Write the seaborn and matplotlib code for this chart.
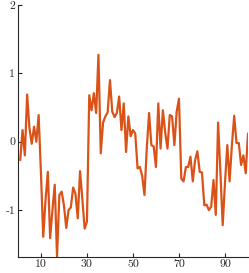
import numpy as np
import pandas as pd
import matplotlib
matplotlib.use("Agg")
import matplotlib.pyplot as plt
import seaborn as sns

# values, one per step (x = 1..100)
steps = list(range(1, 101))
values = [
    -0.27, 0.17, -0.20, 0.69, 0.20, -0.03, 0.22, 0.00, 0.39, -0.45,
    -1.39, -0.85, -0.44, -1.41, -1.00, -0.63, -1.68, -0.78, -0.73, -0.93,
    -1.26, -1.00, -0.96, -0.67, -0.76, -1.12, -0.43, -0.84, -1.27, -1.17,
    0.68, 0.46, 0.71, 0.42, 1.27, -0.17, 0.28, 0.37, 0.43, 0.90,
    0.44, 0.36, 0.42, 0.66, 0.17, 0.56, -0.15, 0.37, 0.08, 0.17,
    0.12, -0.39, -0.37, -0.50, -0.78, -0.10, 0.42, -0.05, -0.07, -0.37,
    0.56, -0.10, 0.46, 0.14, -0.10, 0.39, 0.37, -0.05, 0.44, 0.63,
    -0.54, -0.58, -0.37, -0.37, -0.22, -0.58, -0.27, -0.14, -0.44, -0.45,
    -0.93, -0.92, -1.00, -0.95, -0.56, -1.07, 0.28, -0.44, -1.22, -0.60,
    -0.05, -0.58, -0.05, 0.38, -0.02, -0.02, -0.34, -0.20, -0.46, 0.12,
]
xticks = [10, 30, 50, 70, 90]
yticks = [-1, 0, 1, 2]

df = pd.DataFrame({"step": steps, "value": values})

sns.set_style("ticks")
plt.rcParams["font.family"] = "serif"
plt.rcParams["font.serif"] = ["cmr10", "DejaVu Serif"]
plt.rcParams["axes.unicode_minus"] = False
plt.rcParams["mathtext.fontset"] = "cm"

fig = plt.figure(figsize=(2.49, 2.73), dpi=100)
ax = fig.add_axes([0.072, 0.06, 0.924, 0.922])

sns.lineplot(data=df, x="step", y="value", color="#D95319", linewidth=1.6, ax=ax)

ax.set_xlim(0, 100)
ax.set_ylim(-1.68, 2)
ax.set_xticks(xticks)
ax.set_yticks(yticks)
ax.set_xlabel("")
ax.set_ylabel("")
ax.tick_params(direction="in", length=3, width=0.8, colors="#262626", labelsize=8.5, pad=2)
for side in ["left", "bottom"]:
    ax.spines[side].set_color("#262626")
    ax.spines[side].set_linewidth(0.8)
sns.despine(ax=ax)

fig.savefig("out.png", dpi=100)
